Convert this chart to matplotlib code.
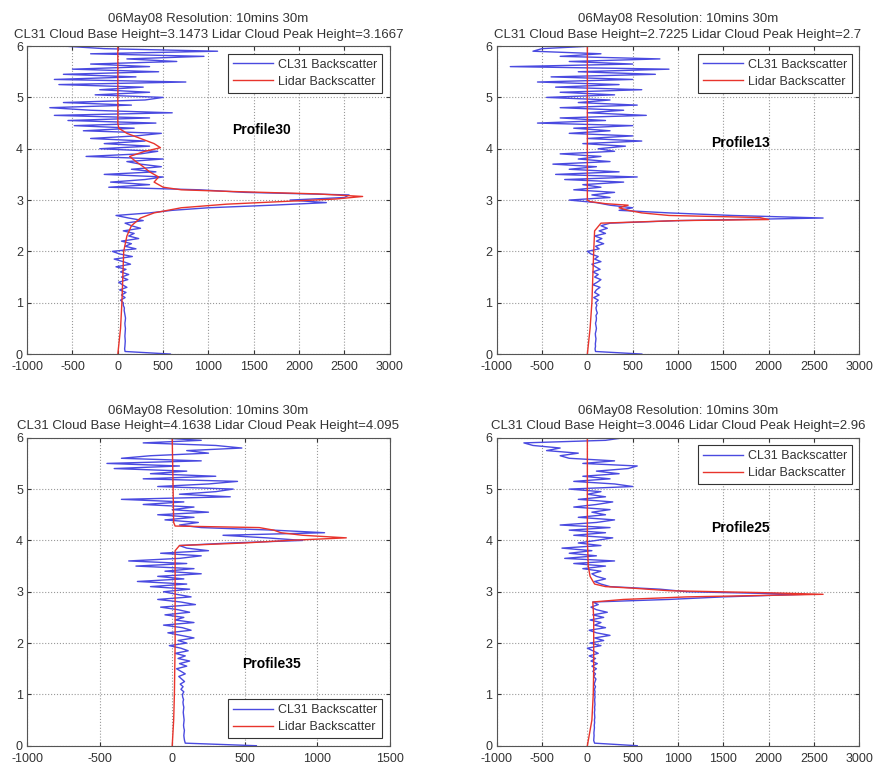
import numpy as np
import matplotlib
matplotlib.use("Agg")
import matplotlib.pyplot as plt

plt.rcParams['font.family'] = ['Liberation Sans', 'DejaVu Sans']
plt.rcParams['axes.unicode_minus'] = False

# Heights (km) of CL31 samples, 0.05 km spacing
cl31_heights = np.linspace(0, 6, 121)

titles = [
    "06May08 Resolution: 10mins 30m\nCL31 Cloud Base Height=3.1473 Lidar Cloud Peak Height=3.1667",
    "06May08 Resolution: 10mins 30m\nCL31 Cloud Base Height=2.7225 Lidar Cloud Peak Height=2.7",
    "06May08 Resolution: 10mins 30m\nCL31 Cloud Base Height=4.1638 Lidar Cloud Peak Height=4.095",
    "06May08 Resolution: 10mins 30m\nCL31 Cloud Base Height=3.0046 Lidar Cloud Peak Height=2.96",
]
profile_names = ["Profile30", "Profile13", "Profile35", "Profile25"]
series_labels = ["CL31 Backscatter", "Lidar Backscatter"]

# ---- Profile30 ----
cl31_p30 = [580, 80, 75, 78, 80, 82, 80, 78, 80, 82, 84, 80, 78, 82, 85, 80, 75, 70, 72, 60,
            60, 30, 80, 40, 90, 20, 100, 50, 10, 110, 40, 120, 30, 90, -20, 140, 60, -40, 160, 20,
            -60, 200, 80, 150, 40, 230, 120, 180, 60, 250, 150, 80, 280, 120, -20, 350, 600, 1000, 1700, 2300,
            1900, 2500, 2550, 1400, 900, -100, 350, -80, 300, 500, -150, 420, 150, 480, 250, 100, 500, -350, 250, 440,
            -200, 350, -150, 300, -300, 200, 480, -380, 180, -480, 420, -550, 350, -700, 600, -300, -750, 150, -600, 300,
            500, -250, 350, -200, 280, -650, 750, -700, 200, -600, 450, -500, 350, -300, 650, 100, 950, -300, 1100, -150,
            -600]
lidar_h_p30 = [0, 0.5, 1.0, 1.5, 2.0, 2.3, 2.5, 2.65, 2.75, 2.85, 2.92, 2.97, 3.02, 3.07, 3.12, 3.17, 3.2,
               3.25, 3.35, 3.45, 3.55, 3.65, 3.75, 3.85, 3.95, 4.02, 4.1, 4.2, 4.3, 4.4, 4.5, 6.0]
lidar_p30 = [0, 30, 45, 55, 65, 100, 150, 250, 400, 700, 1200, 1800, 2400, 2700, 2200, 1200, 700,
             500, 400, 450, 350, 280, 200, 130, 300, 470, 400, 250, 100, 10, 0, 0]

# ---- Profile13 ----
cl31_p13 = [600, 90, 85, 90, 88, 92, 95, 90, 88, 95, 100, 95, 90, 98, 100, 95, 110, 100, 95, 105,
            90, 120, 70, 130, 80, 100, 140, 60, 110, 150, 80, 120, 60, 140, 90, 50, 150, 80, 120, 40,
            0, 130, 90, 180, 100, 160, 80, 200, 130, 220, 150, 250, 1000, 2600, 1600, 900, 350, 500, 250, 100,
            -200, 250, 50, 300, -150, 150, -50, 400, -250, 550, -350, 350, -200, 100, -380, 250, -100, 150, -300, 300,
            120, 420, -50, 600, 0, 500, -200, 250, -150, 500, -550, 200, -300, 650, 0, 400, -300, 550, -100, 250,
            -450, 300, -300, 600, -350, 350, -550, 500, -400, 750, -100, 900, -850, 500, -200, 800, -300, 150, -600, -500,
            50]
lidar_h_p13 = [0, 0.5, 1.0, 1.5, 2.0, 2.4, 2.55, 2.6, 2.62, 2.66, 2.7, 2.75, 2.8, 2.85, 2.9, 2.93, 2.97, 3.0, 6.0]
lidar_p13 = [0, 30, 50, 60, 70, 80, 150, 1000, 2000, 1900, 900, 600, 450, 350, 450, 200, 30, 0, 0]

# ---- Profile35 ----
cl31_p35 = [580, 90, 85, 82, 80, 82, 84, 80, 78, 80, 82, 80, 78, 76, 78, 80, 76, 74, 78, 72,
            70, 80, 60, 75, 55, 85, 65, 45, 90, 60, 30, 100, 50, 120, 40, 90, 20, 110, 60, -20,
            100, 40, 150, 60, -30, 130, 70, -60, 150, 20, 80, -50, 120, 40, -80, 160, 60, -100, 130, 30,
            -60, 120, -150, 100, -240, 80, -100, 200, -50, 150, -250, 100, -300, 50, 200, -80, 250, 100, 50, 400,
            900, 650, 350, 1050, 700, 200, 50, 180, -50, 150, -100, 250, 0, 150, -200, 80, -350, 400, 50, 300,
            420, -100, 250, 450, -200, 300, -150, 100, -400, 50, -450, 200, -350, -150, 250, 100, 480, 300, -200, 200,
            -100]
lidar_h_p35 = [0, 0.5, 1.0, 2.0, 3.0, 3.8, 3.9, 3.95, 4.0, 4.05, 4.1, 4.15, 4.2, 4.25, 4.28, 4.35, 6.0]
lidar_p35 = [0, 10, 15, 20, 20, 20, 50, 500, 800, 1200, 900, 750, 700, 600, 20, 10, 0]

# ---- Profile25 ----
cl31_p25 = [550, 80, 70, 72, 74, 72, 75, 78, 76, 80, 78, 82, 80, 78, 82, 80, 84, 82, 80, 85,
            80, 85, 78, 90, 75, 85, 95, 70, 90, 60, 100, 50, 110, 40, 90, 20, 120, 60, 0, 150,
            30, 180, 80, 250, 100, 20, 200, 80, 150, 30, 180, 60, 220, 100, 40, 120, 60, 900, 1500, 2400,
            1100, 800, 250, 150, 80, 200, 100, 50, 150, -50, 200, -150, 300, -250, 100, -200, 50, -280, 150, -100,
            100, 280, -150, 200, -200, 250, -300, 100, 300, -100, 200, 50, 250, -150, 100, 280, -100, 200, 0, 150,
            -200, 500, 300, -150, 250, -50, 350, 100, 450, 550, -50, 300, -200, -300, -100, -450, -300, -600, -700, 200,
            400]
lidar_h_p25 = [0, 0.5, 1.0, 1.5, 2.0, 2.5, 2.8, 2.85, 2.9, 2.95, 2.98, 3.02, 3.07, 3.1, 3.15, 3.3, 3.5, 4.0, 6.0]
lidar_p25 = [0, 50, 65, 70, 70, 70, 60, 400, 1100, 2600, 2000, 900, 500, 200, 80, 30, 10, 0, 0]

cl31_all = [cl31_p30, cl31_p13, cl31_p35, cl31_p25]
lidar_h_all = [lidar_h_p30, lidar_h_p13, lidar_h_p35, lidar_h_p25]
lidar_all = [lidar_p30, lidar_p13, lidar_p35, lidar_p25]
xlims = [(-1000, 3000), (-1000, 3000), (-1000, 1500), (-1000, 3000)]
text_pos = [(1260, 4.37), (1370, 4.11), (480, 1.6), (1370, 4.25)]
legend_locs = ["upper right", "upper right", "lower right", "upper right"]

fig = plt.figure(figsize=(8.76, 7.68), dpi=100)
rects = [
    [0.031, 0.539, 0.414, 0.401],
    [0.567, 0.539, 0.414, 0.401],
    [0.031, 0.029, 0.414, 0.401],
    [0.567, 0.029, 0.414, 0.401],
]

blue = "#4a4ae0"
red = "#e8342c"
for i in range(4):
    ax = fig.add_axes(rects[i])
    ax.plot(cl31_all[i], cl31_heights, color=blue, lw=1.0, label=series_labels[0])
    ax.plot(lidar_all[i], lidar_h_all[i], color=red, lw=1.0, label=series_labels[1])
    ax.set_xlim(*xlims[i])
    ax.set_ylim(0, 6)
    ax.set_xticks(np.arange(xlims[i][0], xlims[i][1] + 1, 500))
    ax.set_yticks(np.arange(0, 7, 1))
    ax.grid(True, linestyle=":", color="#999999", lw=0.8)
    ax.tick_params(direction="in", top=True, right=True, labelsize=9, colors="#333333",
                   length=3)
    ax.tick_params(axis="x", pad=5)
    ax.tick_params(axis="y", pad=3)
    for s in ax.spines.values():
        s.set_color("#555555")
        s.set_linewidth(0.8)
    ax.set_title(titles[i], fontsize=9.5, color="#333333", pad=6, linespacing=1.4)
    ax.text(text_pos[i][0], text_pos[i][1], profile_names[i], fontsize=10,
            fontweight="bold", color="black", va="center", ha="left")
    leg = ax.legend(loc=legend_locs[i], fontsize=9, fancybox=False, framealpha=1,
                    edgecolor="#333333", handlelength=3.2, borderaxespad=0.6,
                    labelspacing=0.4, handletextpad=0.4)
    leg.get_frame().set_linewidth(0.8)
    for t in leg.get_texts():
        t.set_color("#333333")

fig.savefig("out.png", dpi=100)
